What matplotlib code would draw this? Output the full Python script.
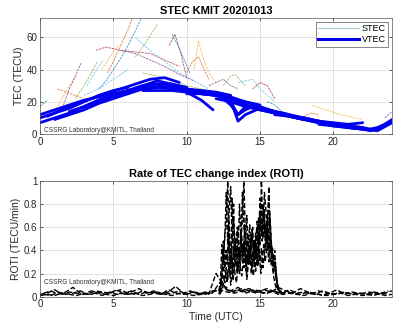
import numpy as np
import matplotlib
matplotlib.use('Agg')
import matplotlib.pyplot as plt

plt.rcParams['font.family'] = ['Liberation Sans', 'DejaVu Sans']

# STEC satellite tracks (time in UTC hours, TECU)
stec_times = [
    [0.0, 0.5],
    [1.2, 1.8, 2.4, 2.9],
    [1.0, 1.5, 2.0, 2.5],
    [1.6, 2.0, 2.5, 2.8],
    [2.4, 3.0, 3.5, 3.9],
    [3.2, 3.6, 4.0, 4.3],
    [3.8, 4.5, 5.5, 6.5, 7.5, 8.5, 9.5],
    [4.0, 4.5, 5.0, 5.5, 6.0, 6.5, 6.9],
    [4.6, 5.0, 5.5, 6.0, 6.3],
    [4.2, 4.8, 5.3],
    [5.5, 6.5, 7.5, 8.5, 9.5, 10.5],
    [6.5, 7.0, 7.5, 8.0],
    [6.5, 7.5, 8.5, 9.5, 10.5, 11.5],
    [8.8, 9.2, 9.6, 10.0],
    [9.0, 9.4, 9.8, 10.2],
    [10.0, 10.4, 10.8, 11.2, 11.5],
    [10.5, 10.8, 11.1, 11.5, 12.0],
    [11.5, 12.0, 12.5, 13.0, 13.5],
    [12.5, 13.0, 13.3, 13.6, 14.0],
    [13.5, 14.0, 14.5, 15.0, 15.5, 16.0],
    [14.5, 15.0, 15.5, 16.0],
    [15.5, 16.0, 16.5, 17.0],
    [17.5, 18.0, 18.5, 19.0],
    [18.5, 19.5, 20.5, 21.5, 22.0],
    [23.5, 24.0],
    [7.0, 8.0, 9.0, 10.0, 11.0, 12.0],
    [3.0, 4.0, 5.0, 6.0],
]
stec_values = [
    [17, 21],
    [28, 26, 24, 22],
    [14, 22, 30, 36],
    [18, 28, 38, 44],
    [22, 30, 38, 45],
    [30, 36, 42, 46],
    [52, 54, 52, 51, 50, 46, 42],
    [28, 33, 40, 47, 55, 64, 72],
    [38, 45, 55, 65, 72],
    [40, 48, 55],
    [52, 50, 46, 42, 37, 33],
    [48, 54, 61, 68],
    [60, 52, 45, 38, 33, 28],
    [55, 62, 50, 35],
    [62, 55, 47, 38],
    [38, 45, 48, 40, 34],
    [40, 58, 48, 38, 32],
    [30, 32, 34, 30, 28],
    [30, 36, 37, 34, 30],
    [32, 33, 34, 28, 24, 20],
    [28, 32, 30, 22],
    [20, 18, 14, 12],
    [10, 11, 13, 12],
    [18, 15, 12, 10, 9],
    [10, 14],
    [38, 36, 34, 30, 28, 26],
    [24, 28, 34, 40],
]

# VTEC satellite tracks
vtec_times = [
    [0, 1, 2, 3, 4, 5, 6, 7, 8],
    [0, 1, 2, 3, 4, 5, 6],
    [0.5, 1.5, 2.5, 3.5, 4.5, 5.5, 6.5, 7.5, 8.5, 9.5],
    [3, 4, 5, 6, 7, 8, 9, 10, 11, 12],
    [5, 6, 7, 8, 9, 10, 11, 11.8],
    [6, 7, 8, 9, 10, 11, 12, 13, 14],
    [8, 9, 10, 11, 12, 13, 13.5, 14, 15, 16],
    [10, 11, 12, 13, 14, 15, 16, 17, 18],
    [12, 13, 14, 15, 16, 17, 18, 19, 20, 21, 22],
    [14, 15, 16, 17, 18, 19, 20, 21, 22, 23],
    [16, 17, 18, 19, 20, 21, 22, 22.5, 23, 23.5, 24],
    [18, 19, 20, 21, 22, 22.5, 23, 24],
    [12.5, 13, 13.5, 14, 14.5, 15],
    [0, 1, 2, 3, 4, 5, 6, 7],
    [1, 2, 3, 4, 5, 6, 7, 8, 9, 10],
    [2, 3, 4, 5, 6, 7, 8, 9, 10, 11, 12, 13],
    [7, 8, 9, 10, 11, 12, 13, 14, 15],
    [10, 11, 12, 13, 14, 15, 16, 17],
    [13, 13.5, 14, 15, 16, 17, 18, 19, 20, 21, 22],
    [19, 20, 21, 22, 23, 24],
]
vtec_values = [
    [7, 10, 13, 17, 21, 24, 27, 30, 33],
    [10, 13, 16, 20, 24, 27, 29],
    [11, 15, 19, 22, 25, 28, 31, 34, 35, 32],
    [17, 21, 24, 27, 28, 29, 30, 28, 26, 24],
    [24, 27, 30, 31, 29, 26, 21, 15],
    [26, 28, 29, 28, 27, 26, 25, 22, 19],
    [33, 31, 28, 26, 24, 21, 8, 12, 16, 14],
    [27, 25, 24, 22, 18, 15, 13, 11, 9],
    [22, 20, 17, 15, 13, 11, 9, 8, 7, 6, 7],
    [18, 16, 13, 11, 9, 7, 6, 4, 3, 3],
    [12, 11, 9, 7, 5, 4, 3, 2, 3, 6, 9],
    [10, 8, 6, 5, 4, 3, 4, 8],
    [22, 18, 12, 15, 17, 15],
    [12, 15, 18, 21, 23, 25, 27, 29],
    [9, 12, 15, 19, 22, 25, 28, 31, 31, 29],
    [14, 17, 20, 23, 26, 29, 31, 30, 28, 27, 26, 24],
    [27, 27, 27, 26, 25, 24, 22, 20, 18],
    [25, 25, 24, 23, 20, 17, 14, 12],
    [20, 12, 17, 16, 14, 12, 10, 8, 6, 5, 4],
    [6, 5, 4, 3, 2, 7],
]

# ROTI quiet background (0-24 UTC every 0.5 h, and offset by 0.25 h)
roti_base1 = [0.02, 0.03, 0.06, 0.02, 0.04, 0.03, 0.02, 0.05, 0.03, 0.02,
              0.04, 0.06, 0.03, 0.02, 0.05, 0.03, 0.04, 0.02, 0.03, 0.05,
              0.02, 0.04, 0.03, 0.02, 0.20, 0.10, 0.05, 0.08, 0.04, 0.06,
              0.05, 0.07, 0.04, 0.03, 0.06, 0.03, 0.04, 0.02, 0.05, 0.03,
              0.02, 0.04, 0.03, 0.02, 0.03, 0.04, 0.02, 0.03, 0.05]
roti_base2 = [0.01, 0.02, 0.01, 0.03, 0.02, 0.01, 0.03, 0.02, 0.04, 0.02,
              0.01, 0.03, 0.02, 0.03, 0.01, 0.02, 0.04, 0.02, 0.01, 0.03,
              0.02, 0.01, 0.02, 0.03, 0.05, 0.08, 0.04, 0.06, 0.03, 0.05,
              0.04, 0.03, 0.05, 0.02, 0.03, 0.02, 0.01, 0.03, 0.02, 0.01,
              0.02, 0.03, 0.01, 0.02, 0.01, 0.02, 0.03, 0.01, 0.02]
roti_base3 = [0.03, 0.05, 0.02, 0.04, 0.08, 0.03, 0.02, 0.05, 0.04, 0.03,
              0.06, 0.02, 0.04, 0.07, 0.03, 0.05, 0.02, 0.04, 0.09, 0.03,
              0.05, 0.02, 0.04, 0.03, 0.12, 0.06, 0.04, 0.07, 0.05, 0.03,
              0.06, 0.04, 0.08, 0.05, 0.03, 0.07, 0.04, 0.02, 0.05, 0.03,
              0.06, 0.02, 0.04, 0.03, 0.02, 0.04, 0.03, 0.05]
roti_base4 = [0.02, 0.01, 0.04, 0.02, 0.03, 0.05, 0.02, 0.03, 0.01, 0.04,
              0.02, 0.03, 0.05, 0.02, 0.04, 0.03, 0.02, 0.06, 0.03, 0.02,
              0.04, 0.03, 0.02, 0.05, 0.06, 0.04, 0.03, 0.05, 0.07, 0.04,
              0.03, 0.05, 0.02, 0.04, 0.03, 0.02, 0.04, 0.03, 0.01, 0.03,
              0.02, 0.04, 0.02, 0.03, 0.02, 0.01, 0.03, 0.02]

# ROTI disturbed period, 12.2-16.6 UTC every 0.1 h
roti_burst_a = [0.05, 0.12, 0.45, 0.30, 0.55, 0.62, 1.00, 0.40, 0.20, 0.85,
                0.35, 0.50, 0.25, 0.60, 0.30, 0.45, 0.70, 1.00, 0.55, 0.30,
                0.48, 0.62, 0.35, 0.25, 0.40, 0.55, 0.30, 0.68, 0.45, 1.00,
                0.50, 0.75, 0.40, 0.60, 0.95, 0.45, 0.30, 0.20, 0.12, 0.08,
                0.10, 0.05, 0.04, 0.03, 0.03]
roti_burst_b = [0.02, 0.08, 0.20, 0.48, 0.25, 0.40, 0.30, 0.65, 0.28, 0.45,
                0.80, 0.30, 0.42, 0.22, 0.38, 0.55, 0.30, 0.48, 0.35, 0.20,
                0.40, 0.30, 0.52, 0.28, 0.45, 0.35, 0.60, 0.40, 0.72, 0.55,
                0.80, 0.60, 0.48, 0.70, 0.55, 0.38, 0.42, 0.30, 0.25, 0.15,
                0.06, 0.04, 0.05, 0.03, 0.02]
roti_burst_c = [0.03, 0.05, 0.10, 0.18, 0.12, 0.25, 0.15, 0.30, 0.10, 0.22,
                0.40, 0.18, 0.12, 0.30, 0.20, 0.35, 0.42, 0.25, 0.38, 0.15,
                0.28, 0.45, 0.20, 0.32, 0.48, 0.22, 0.35, 0.50, 0.30, 0.42,
                0.25, 0.38, 0.62, 0.45, 0.30, 0.52, 0.35, 0.22, 0.40, 0.18,
                0.08, 0.05, 0.04, 0.03, 0.02]
roti_burst_d = [0.04, 0.06, 0.15, 0.35, 0.50, 0.90, 0.45, 0.75, 0.95, 0.50,
                0.65, 0.40, 0.55, 0.35, 0.80, 0.50, 0.90, 0.60, 0.45, 0.70,
                0.35, 0.50, 0.40, 0.60, 0.30, 0.45, 0.65, 0.50, 0.85, 0.70,
                0.60, 0.90, 0.75, 0.55, 0.85, 0.65, 0.40, 0.35, 0.28, 0.20,
                0.10, 0.06, 0.04, 0.03, 0.02]
# same period shifted by 0.05 h
roti_burst_e = [0.03, 0.10, 0.30, 0.22, 0.40, 0.28, 0.55, 0.32, 0.45, 0.20,
                0.50, 0.38, 0.60, 0.42, 0.28, 0.52, 0.35, 0.62, 0.40, 0.55,
                0.30, 0.45, 0.58, 0.36, 0.50, 0.42, 0.30, 0.55, 0.62, 0.48,
                0.70, 0.52, 0.65, 0.40, 0.72, 0.50, 0.36, 0.28, 0.20, 0.12,
                0.07, 0.05, 0.03, 0.02, 0.02]
roti_burst_f = [0.02, 0.04, 0.08, 0.15, 0.22, 0.12, 0.28, 0.18, 0.35, 0.14,
                0.25, 0.32, 0.20, 0.40, 0.26, 0.18, 0.30, 0.45, 0.22, 0.35,
                0.28, 0.40, 0.25, 0.18, 0.32, 0.44, 0.26, 0.38, 0.20, 0.34,
                0.45, 0.30, 0.40, 0.55, 0.35, 0.28, 0.42, 0.26, 0.30, 0.14,
                0.06, 0.04, 0.03, 0.02, 0.02]

matlab_colors = ['#0072BD', '#D95319', '#EDB120', '#7E2F8E',
                 '#77AC30', '#4DBEEE', '#A2142F']
axis_grey = '#262626'
credit = 'CSSRG Laboratory@KMITL, Thailand'


def style_axes(ax):
    ax.set_xlim(0, 24)
    ax.set_xticks([0, 5, 10, 15, 20])
    ax.tick_params(direction='in', length=2.5, width=0.5, labelsize=7,
                   colors=axis_grey, top=True, right=True, pad=2)
    ax.grid(True, color='#dddddd', linewidth=0.6)
    ax.set_axisbelow(True)
    for s in ax.spines.values():
        s.set_linewidth(0.5)
        s.set_color('#555555')


fig = plt.figure(figsize=(3.96, 3.30), dpi=100)
ax1 = fig.add_axes([0.101, 0.594, 0.889, 0.351])
ax2 = fig.add_axes([0.101, 0.101, 0.889, 0.351])

# top panel: STEC / VTEC
for i, (t, v) in enumerate(zip(stec_times, stec_values)):
    ax1.plot(t, v, color=matlab_colors[i % len(matlab_colors)], lw=0.6,
             ls=(0, (3, 1)), alpha=0.75)
for t, v in zip(vtec_times, vtec_values):
    ax1.plot(t, v, color='#0000ee', lw=2.0, solid_capstyle='round')

ax1.plot([], [], color='#a6cfd8', lw=0.8, label='STEC')
ax1.plot([], [], color='#0000ee', lw=2.2, label='VTEC')
leg = ax1.legend(loc='upper right', fontsize=6.5, handlelength=4.5,
                 borderpad=0.3, labelspacing=0.2, handletextpad=0.3,
                 fancybox=False, framealpha=1, borderaxespad=0.4)
leg.get_frame().set_linewidth(0.5)
leg.get_frame().set_edgecolor('#555555')

style_axes(ax1)
ax1.set_ylim(0, 72)
ax1.set_yticks([0, 20, 40, 60])
ax1.set_ylabel('TEC (TECU)', fontsize=7.5, color=axis_grey, labelpad=2)
ax1.set_title('STEC KMIT 20201013', fontsize=8, fontweight='bold', pad=3)
ax1.text(0.3, 1.5, credit, fontsize=4.7, color='#333333')

# bottom panel: ROTI
t_base = np.arange(len(roti_base1)) * 0.5
t_base_off = 0.25 + np.arange(len(roti_base3)) * 0.5
t_burst = 12.2 + np.arange(len(roti_burst_a)) * 0.1
for v in [roti_base1, roti_base2]:
    ax2.plot(t_base, v, color='k', lw=1.0, ls='--')
for v in [roti_base3, roti_base4]:
    ax2.plot(t_base_off, v, color='k', lw=1.0, ls='--')
for v in [roti_burst_a, roti_burst_b, roti_burst_c, roti_burst_d]:
    ax2.plot(t_burst, v, color='k', lw=1.0, ls='--')
for v in [roti_burst_e, roti_burst_f]:
    ax2.plot(t_burst + 0.05, v, color='k', lw=1.0, ls='--')

style_axes(ax2)
ax2.set_ylim(0, 1)
ax2.set_yticks([0, 0.2, 0.4, 0.6, 0.8, 1])
ax2.set_yticklabels(['0', '0.2', '0.4', '0.6', '0.8', '1'])
ax2.set_ylabel('ROTI (TECU/min)', fontsize=7.5, color=axis_grey, labelpad=2)
ax2.set_xlabel('Time (UTC)', fontsize=7.5, color=axis_grey, labelpad=2)
ax2.set_title('Rate of TEC change index (ROTI)', fontsize=8,
              fontweight='bold', pad=3)
ax2.text(0.3, 0.11, credit, fontsize=4.7, color='#333333')

fig.savefig('out.png', dpi=100)
